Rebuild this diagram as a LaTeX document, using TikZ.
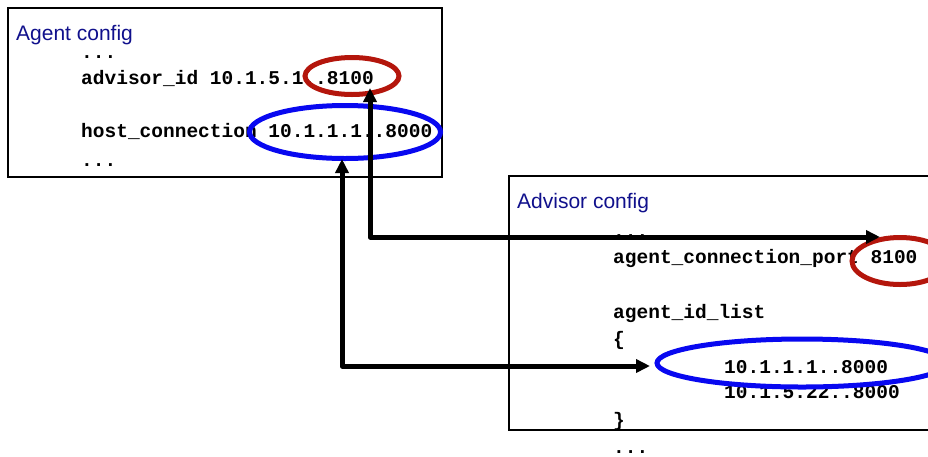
\documentclass[tikz,border=0pt]{standalone}
\usepackage{fontspec}
\setmainfont{Liberation Sans}
\newfontfamily\codefont{Liberation Mono}
\usetikzlibrary{shapes.geometric,arrows.meta}
\definecolor{titleblue}{RGB}{16,16,140}
\definecolor{ringred}{RGB}{180,22,12}
\definecolor{ringblue}{RGB}{8,8,240}
\begin{document}
\begin{tikzpicture}[x=1pt,y=-1pt,
  panel/.style={draw=black,line width=2pt},
  title/.style={text=titleblue,font=\fontsize{21}{24}\selectfont,inner sep=0pt,anchor=base west},
  code/.style={font=\codefont\bfseries\fontsize{19.5}{22}\selectfont,inner sep=0pt,anchor=base west},
  ring/.style={draw=#1,line width=5pt,ellipse,inner sep=0pt},
  link/.style={draw=black,line width=5pt,line join=round,
    {Triangle[length=14pt,width=13pt]}-{Triangle[length=14pt,width=13pt]}}]
\useasboundingbox (0,0) rectangle (928,456);

% configuration panels
\draw[panel] (8,8) rectangle (442,177);
\draw[panel] (509,176) rectangle (940,430);

% agent configuration
\node[title] (agentTitle) at (16,40) {Agent config};
\node[code] (agDots1) at (81,58) {...};
\node[code] (agAdvisor) at (81,84) {advisor\_id 10.1.5.1..8100};
\node[code] (agHost) at (81,137) {host\_connection 10.1.1.1..8000};
\node[code] (agDots2) at (81,166) {...};

% advisor configuration
\node[title] (advTitle) at (517,208) {Advisor config};
\node[code] (adDots1) at (613,237) {...};
\node[code] (adPort) at (613,263) {agent\_connection\_port 8100};
\node[code] (adList) at (613,318) {agent\_id\_list};
\node[code] (adOpen) at (613,345) {\{};
\node[code] (adId1) at (724,373) {10.1.1.1..8000};
\node[code] (adId2) at (724,398) {10.1.5.22..8000};
\node[code] (adClose) at (613,426) {\}};
\node[code] (adDots2) at (613,453) {...};

% highlighted values
\node[ring=ringred,minimum width=94pt,minimum height=37pt] (portA) at (352,76) {};
\node[ring=ringblue,minimum width=191pt,minimum height=53pt] (hostA) at (345,132) {};
\node[ring=ringred,minimum width=96pt,minimum height=47pt] (portB) at (900,261) {};
\node[ring=ringblue,minimum width=290pt,minimum height=48pt] (hostB) at (802,363) {};

% correspondences
\coordinate (portTipA) at (370,88);
\coordinate (portTipB) at (880,237);
\coordinate (hostTipA) at (342,159);
\coordinate (hostTipB) at (650,366);
\draw[link] (portTipA) |- (portTipB);
\draw[link] (hostTipA) |- (hostTipB);
\end{tikzpicture}
\end{document}
